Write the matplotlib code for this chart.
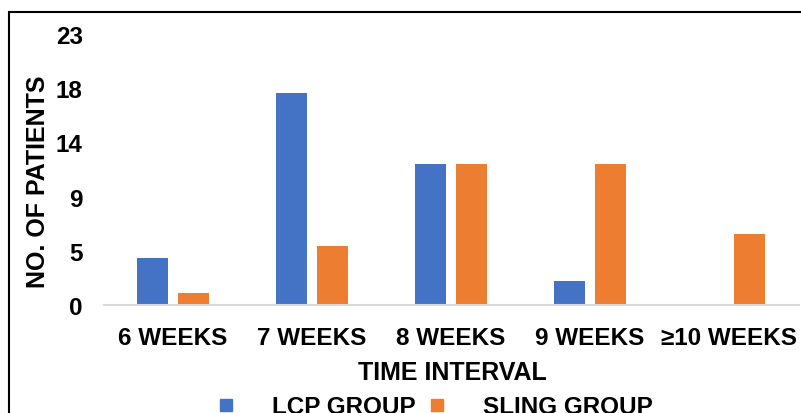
import numpy as np
import matplotlib
matplotlib.use("Agg")
import matplotlib.pyplot as plt
from matplotlib.lines import Line2D
from matplotlib.patches import Rectangle

categories = ["6 WEEKS", "7 WEEKS", "8 WEEKS", "9 WEEKS", "\u226510 WEEKS"]
lcp_group = [4, 18, 12, 2, 0]
sling_group = [1, 5, 12, 12, 6]
series_names = ["LCP GROUP", "SLING GROUP"]
y_max = 23
y_tick_labels = ["0", "5", "9", "14", "18", "23"]

plt.rcParams['font.family'] = ['Liberation Sans', 'DejaVu Sans']
plt.rcParams['font.weight'] = 'bold'

W, H = 801, 414
fig = plt.figure(figsize=(W / 100, H / 100), dpi=100)
ax = fig.add_axes([103.5 / W, 1 - 306 / H, 695 / W, (306 - 35) / H])

blue = "#4472C4"
orange = "#ED7D31"
x = np.arange(len(categories))
bw = 31 / 139
off = 20.5 / 139
ax.bar(x - off, lcp_group, width=bw, color=blue, zorder=3)
ax.bar(x + off, sling_group, width=bw, color=orange, zorder=3)

ax.set_xlim(-0.5, len(categories) - 0.5)
ax.set_ylim(0, y_max)
ax.set_yticks(np.linspace(0, y_max, len(y_tick_labels)))
ax.set_yticklabels(y_tick_labels)
ax.set_xticks(x)
ax.set_xticklabels(categories)
ax.tick_params(axis='both', length=0, labelsize=17.5)
ax.tick_params(axis='x', pad=15)
ax.tick_params(axis='y', pad=15)
for s in ["top", "right", "left"]:
    ax.spines[s].set_visible(False)
ax.spines["bottom"].set_color("#d9d9d9")
ax.spines["bottom"].set_linewidth(1.5)
ax.spines["bottom"].set_zorder(4)

fig.text(38 / W, 1 - 182 / H, "NO. OF PATIENTS", rotation=90, ha='center',
         va='center', fontsize=18, fontweight='bold')
fig.text(452 / W, 1 - 373 / H, "TIME INTERVAL", ha='center', va='center',
         fontsize=18, fontweight='bold')

handles = [Line2D([], [], marker='s', linestyle='none', markersize=8.6,
                  markerfacecolor=c, markeredgecolor=c) for c in (blue, orange)]
fig.legend(handles, series_names, loc='center', ncol=2, frameon=False,
           bbox_to_anchor=(434.5 / W, 1 - 408 / H),
           handlelength=0.8, handletextpad=1.5, columnspacing=0.45,
           borderpad=0, borderaxespad=0, prop={'weight': 'bold', 'size': 17.5})

fig.patches.append(Rectangle((8.5 / W, -20 / H), 900 / W, (H - 12.5 + 20) / H,
                             transform=fig.transFigure, fill=False,
                             edgecolor='black', linewidth=1.5))

fig.savefig("out.png", dpi=100)
